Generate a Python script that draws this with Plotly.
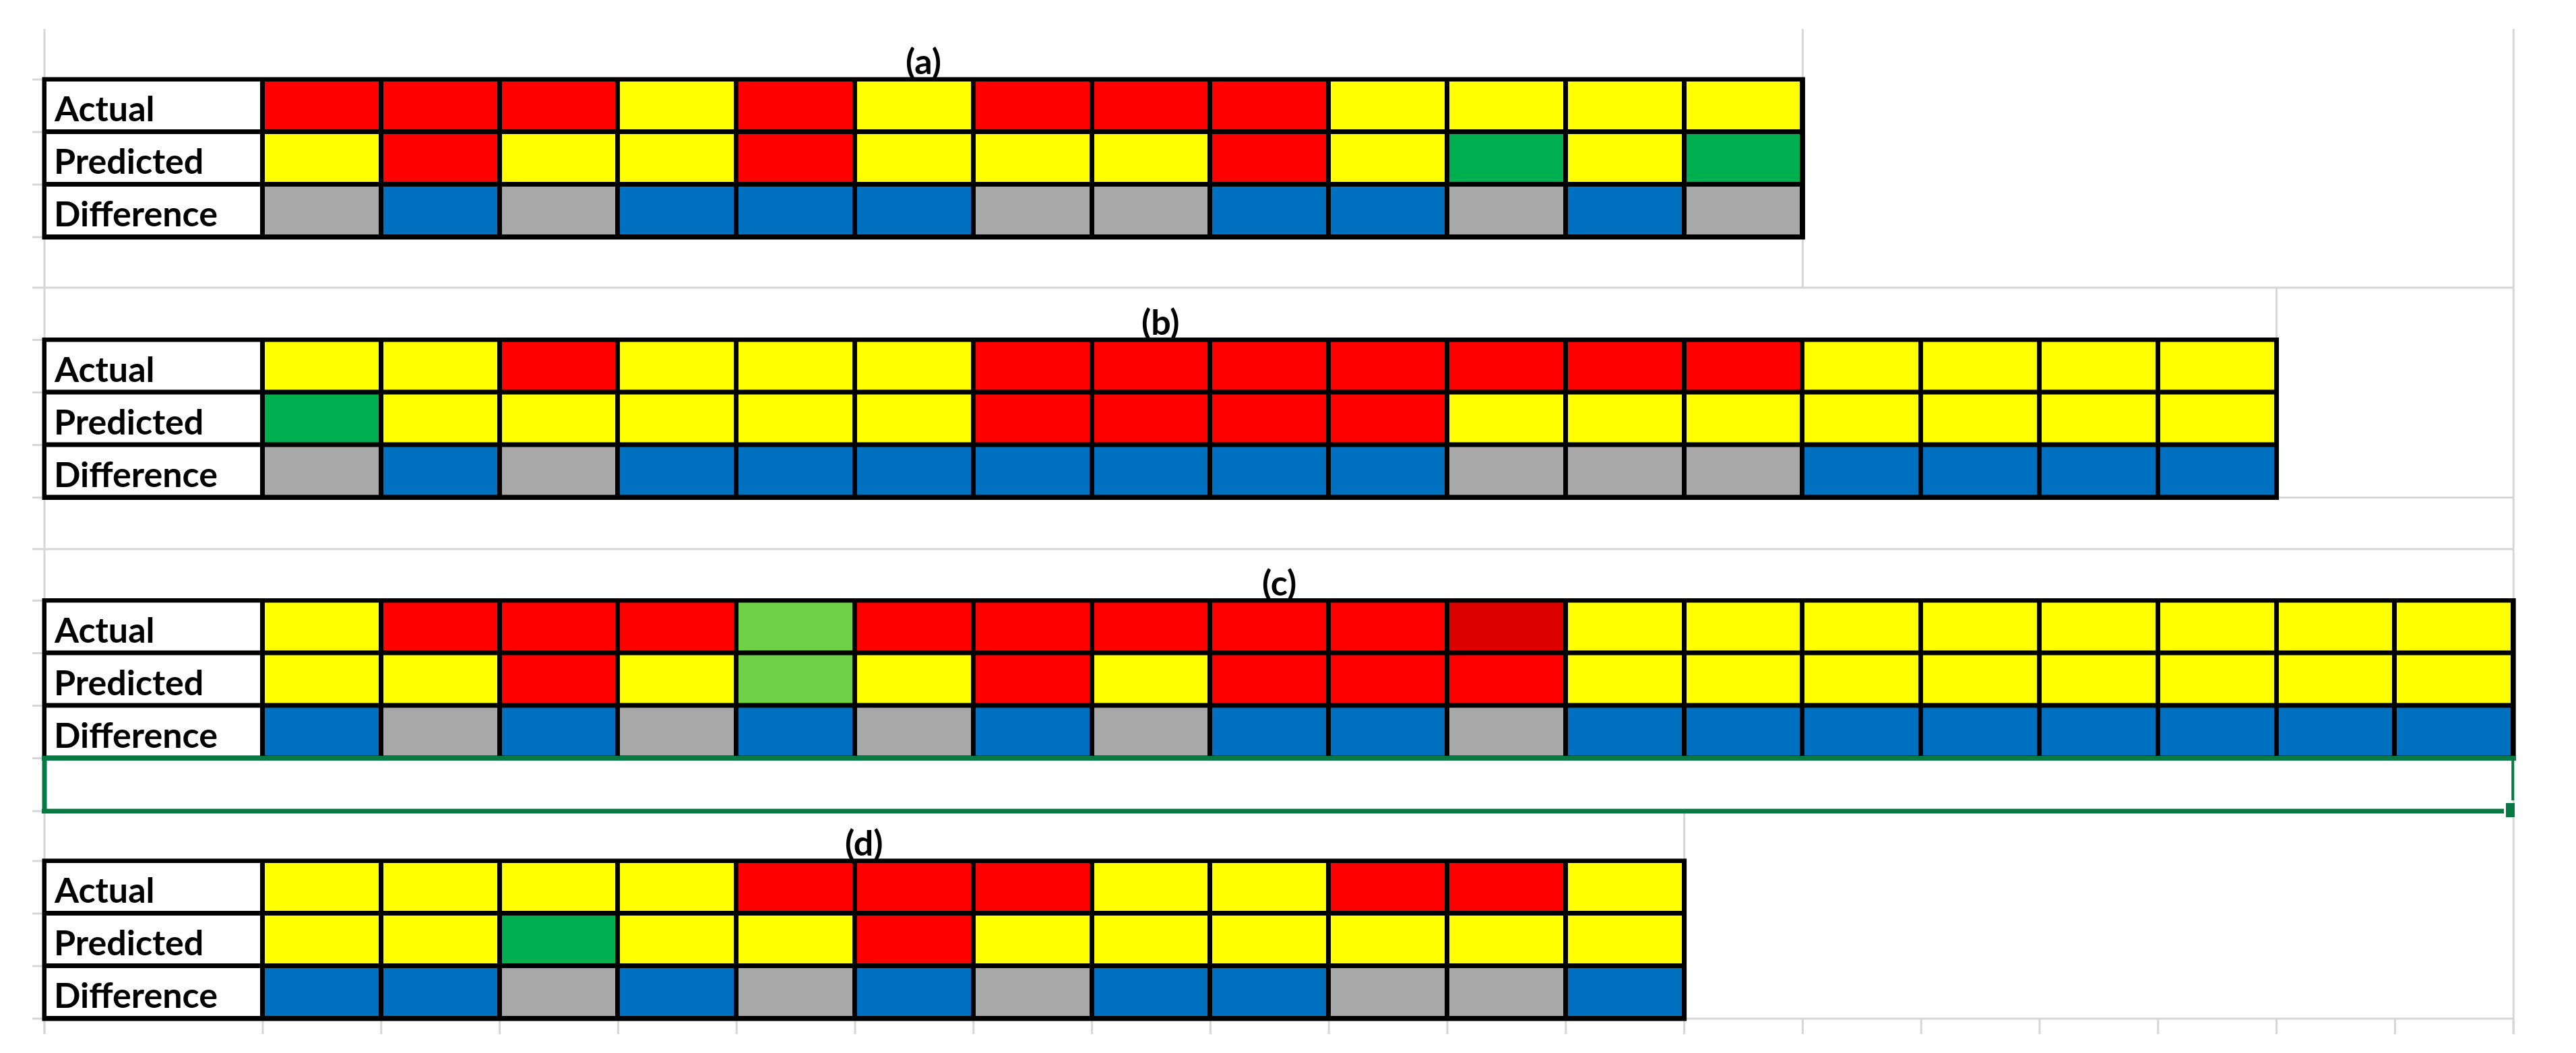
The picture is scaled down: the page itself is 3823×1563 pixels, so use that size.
import plotly.graph_objects as go

# spreadsheet colour codes: R red, D dark red, Y yellow, G green, L light green,
# B blue (same class), X grey (different class)
row_labels = ["Actual", "Predicted", "Difference"]
titles = ["(a)", "(b)", "(c)", "(d)"]

a_actual = ["R", "R", "R", "Y", "R", "Y", "R", "R", "R", "Y", "Y", "Y", "Y"]
a_predicted = ["Y", "R", "Y", "Y", "R", "Y", "Y", "Y", "R", "Y", "G", "Y", "G"]
a_difference = ["X", "B", "X", "B", "B", "B", "X", "X", "B", "B", "X", "B", "X"]

b_actual = ["Y", "Y", "R", "Y", "Y", "Y", "R", "R", "R", "R", "R", "R", "R", "Y", "Y", "Y", "Y"]
b_predicted = ["G", "Y", "Y", "Y", "Y", "Y", "R", "R", "R", "R", "Y", "Y", "Y", "Y", "Y", "Y", "Y"]
b_difference = ["X", "B", "X", "B", "B", "B", "B", "B", "B", "B", "X", "X", "X", "B", "B", "B", "B"]

c_actual = ["Y", "R", "R", "R", "L", "R", "R", "R", "R", "R", "D",
            "Y", "Y", "Y", "Y", "Y", "Y", "Y", "Y"]
c_predicted = ["Y", "Y", "R", "Y", "L", "Y", "R", "Y", "R", "R", "R",
               "Y", "Y", "Y", "Y", "Y", "Y", "Y", "Y"]
c_difference = ["B", "X", "B", "X", "B", "X", "B", "X", "B", "B", "X",
                "B", "B", "B", "B", "B", "B", "B", "B"]

d_actual = ["Y", "Y", "Y", "Y", "R", "R", "R", "Y", "Y", "R", "R", "Y"]
d_predicted = ["Y", "Y", "G", "Y", "Y", "R", "Y", "Y", "Y", "Y", "Y", "Y"]
d_difference = ["B", "B", "X", "B", "X", "B", "X", "B", "B", "X", "X", "B"]

tables = [
    (a_actual, a_predicted, a_difference),
    (b_actual, b_predicted, b_difference),
    (c_actual, c_predicted, c_difference),
    (d_actual, d_predicted, d_difference),
]

codes = ["W", "R", "D", "Y", "G", "L", "B", "X"]
palette = ["#FFFFFF", "#FF0000", "#DD0000", "#FFFF00", "#00B050", "#6FD146", "#0070C0", "#A8A8A8"]

# sheet geometry (pixels)
W, H = 3823, 1563
left = 66
label_end = 390
col_w = 175.8
row_h = 78
table_tops = [118, 504.5, 891.5, 1278]
grid = "#D6D6D6"

n = len(palette)
colorscale = []
for i, c in enumerate(palette):
    colorscale += [[i / n, c], [(i + 1) / n, c]]

fig = go.Figure()
shapes = []


def vline(x, y0, y1, color=grid, width=3):
    shapes.append(dict(type="line", x0=x, x1=x, y0=y0, y1=y1, layer="below",
                       line=dict(color=color, width=width)))


def hline(y, x0, x1, color=grid, width=3):
    shapes.append(dict(type="line", x0=x0, x1=x1, y0=y, y1=y, layer="below",
                       line=dict(color=color, width=width)))


# light spreadsheet gridlines
right_edges = [label_end + col_w * len(t[0]) for t in tables]
vline(left, 43, 1535)
vline(right_edges[2], 43, 1535)
vline(right_edges[0], 43, 427)
vline(right_edges[1], 427, 505)
vline(right_edges[3], 1207, 1278)
hline(427, 48, right_edges[2])
hline(815, 48, right_edges[2])
hline(table_tops[1] + 3 * row_h, right_edges[1], right_edges[2])
hline(table_tops[3] + 3 * row_h, right_edges[3], right_edges[2])
for k in range(len(tables[2][0]) + 1):
    vline(label_end + k * col_w, 1512, 1535)
vline(left, 1512, 1535)
for top in table_tops:
    for k in range(4):
        hline(top + k * row_h, 48, left)
hline(1204, 48, left)

for (actual, predicted, difference), top, title in zip(tables, table_tops, titles):
    ncol = len(actual)
    x_edges = [left, label_end] + [label_end + (k + 1) * col_w for k in range(ncol)]
    y_edges = [top + k * row_h for k in range(4)]
    z = [[0] + [codes.index(v) for v in row] for row in (actual, predicted, difference)]
    right = x_edges[-1]
    # black cell borders behind the coloured cells
    shapes.append(dict(type="rect", x0=left - 3.5, x1=right + 3.5, y0=top - 3.5,
                       y1=y_edges[-1] + 3.5, layer="below", line=dict(width=0),
                       fillcolor="black"))
    fig.add_trace(go.Heatmap(
        x=x_edges, y=y_edges, z=z, zmin=-0.5, zmax=n - 0.5,
        colorscale=colorscale, showscale=False, xgap=7, ygap=7, hoverinfo="skip",
    ))
    for k, lab in enumerate(row_labels):
        fig.add_annotation(x=78, y=top + k * row_h + row_h / 2 + 3, text="<b>%s</b>" % lab,
                           xanchor="left", yanchor="middle", showarrow=False,
                           font=dict(family="Lato", size=52, color="black"))
    fig.add_annotation(x=(left + right) / 2, y=top - 28, text="<b>%s</b>" % title,
                       xanchor="center", yanchor="middle", showarrow=False,
                       font=dict(family="Lato", size=52, color="black"))

# green selected-cell frame under table (c)
green = "#077A43"
x_end = right_edges[2]
hline(table_tops[2] + 3 * row_h, left - 4, x_end + 3, color=green, width=7)
hline(1204, left - 4, 3716, color=green, width=7)
vline(left, 1122, 1207, color=green, width=7)
vline(x_end - 1, 1125, 1188, color=green, width=4)
for s in shapes[-4:]:
    s["layer"] = "above"
shapes.append(dict(type="rect", x0=3719, x1=3732, y0=1192, y1=1213, layer="above",
                   line=dict(width=0), fillcolor=green))

fig.update_layout(
    width=W, height=H, margin=dict(l=0, r=0, t=0, b=0),
    plot_bgcolor="white", paper_bgcolor="white", showlegend=False,
    shapes=shapes,
)
fig.update_xaxes(range=[0, W], visible=False, fixedrange=True)
fig.update_yaxes(range=[H, 0], visible=False, fixedrange=True)
fig.write_html("out.html", config={"displayModeBar": False},
               post_script="document.body.style.margin='0px';")
